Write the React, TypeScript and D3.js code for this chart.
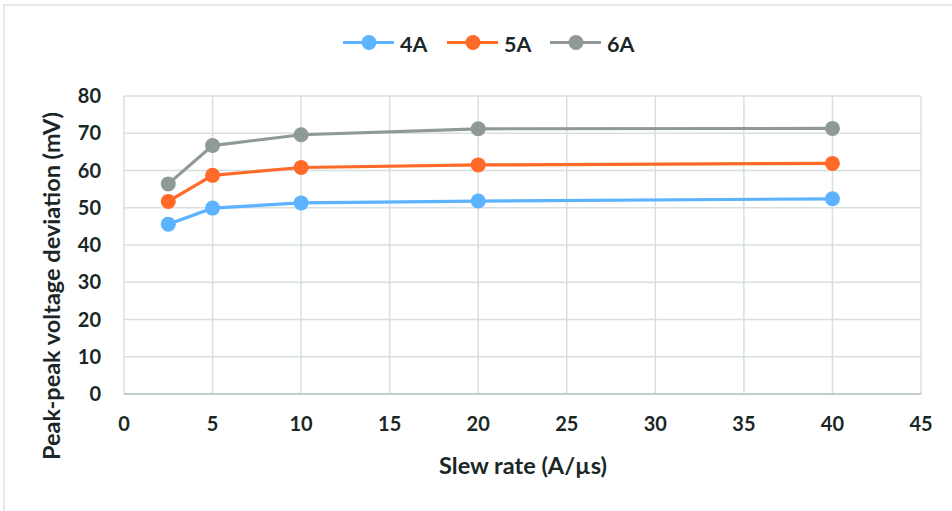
import React from "react";
import * as d3 from "d3";

const slewRates = [2.5, 5, 10, 20, 40];
const series4A = [45.6, 49.9, 51.3, 51.8, 52.4];
const series5A = [51.7, 58.7, 60.8, 61.5, 61.9];
const series6A = [56.4, 66.7, 69.6, 71.2, 71.3];
const seriesNames = ["4A", "5A", "6A"];
const seriesColors = ["#5CB3FF", "#FF6A28", "#8F9A98"];
const xTicks = [0, 5, 10, 15, 20, 25, 30, 35, 40, 45];
const yTicks = [0, 10, 20, 30, 40, 50, 60, 70, 80];

const W = 952;
const H = 511;
const FONT = "Lato, 'Open Sans', sans-serif";
const TEXT = "#1B2727";
const GRID = "#D7E0DD";

export default function App() {
  const x = d3.scaleLinear().domain([0, 45]).range([124, 921]);
  const y = d3.scaleLinear().domain([0, 80]).range([394, 96]);
  const allSeries = [series4A, series5A, series6A];
  const line = d3
    .line<number>()
    .x((_, i) => x(slewRates[i]))
    .y((d) => y(d));

  const legendX = [343, 447, 550];

  return (
    <svg
      width={W}
      height={H}
      style={{ position: "absolute", left: 0, top: 0, background: "#fff" }}
    >
      <rect x={4} y={5} width={W + 10} height={H + 10} fill="#fff" stroke="#DCE4E1" strokeWidth={1.5} />
      {/* grid */}
      {yTicks.map((t) => (
        <line key={"gy" + t} x1={x(0)} x2={x(45)} y1={y(t)} y2={y(t)} stroke={GRID} strokeWidth={1.5} />
      ))}
      {xTicks.map((t) => (
        <line key={"gx" + t} x1={x(t)} x2={x(t)} y1={y(0)} y2={y(80)} stroke={GRID} strokeWidth={1.5} />
      ))}
      <line x1={x(0)} x2={x(45)} y1={y(0)} y2={y(0)} stroke="#C3CDCA" strokeWidth={2} />
      {/* tick labels */}
      {yTicks.map((t) => (
        <text
          key={"ty" + t}
          x={101}
          y={y(t)}
          dy="0.36em"
          textAnchor="end"
          fontFamily={FONT}
          fontWeight={700}
          fontSize={20}
          fill={TEXT}
        >
          {t}
        </text>
      ))}
      {xTicks.map((t) => (
        <text
          key={"tx" + t}
          x={x(t)}
          y={431}
          textAnchor="middle"
          fontFamily={FONT}
          fontWeight={700}
          fontSize={20}
          fill={TEXT}
        >
          {t}
        </text>
      ))}
      {/* axis titles */}
      <text
        x={523}
        y={474}
        textAnchor="middle"
        fontFamily={FONT}
        fontWeight={700}
        fontSize={23.5}
        fill={TEXT}
      >
        Slew rate (A/µs)
      </text>
      <text
        transform="translate(60,286) rotate(-90)"
        textAnchor="middle"
        fontFamily={FONT}
        fontWeight={700}
        fontSize={23.5}
        fill={TEXT}
      >
        Peak-peak voltage deviation (mV)
      </text>
      {/* series */}
      {allSeries.map((s, si) => (
        <g key={"s" + si}>
          <path d={line(s) || ""} fill="none" stroke={seriesColors[si]} strokeWidth={3.2} />
          {s.map((v, i) => (
            <circle key={i} cx={x(slewRates[i])} cy={y(v)} r={7.5} fill={seriesColors[si]} />
          ))}
        </g>
      ))}
      {/* legend */}
      {seriesNames.map((n, i) => (
        <g key={"l" + n}>
          <line x1={legendX[i]} x2={legendX[i] + 51} y1={42.5} y2={42.5} stroke={seriesColors[i]} strokeWidth={3.2} />
          <circle cx={legendX[i] + 26} cy={42.5} r={7.5} fill={seriesColors[i]} />
          <text
            x={legendX[i] + 57}
            y={52}
            fontFamily={FONT}
            fontWeight={700}
            fontSize={21.5}
            fill={TEXT}
          >
            {n}
          </text>
        </g>
      ))}
    </svg>
  );
}
